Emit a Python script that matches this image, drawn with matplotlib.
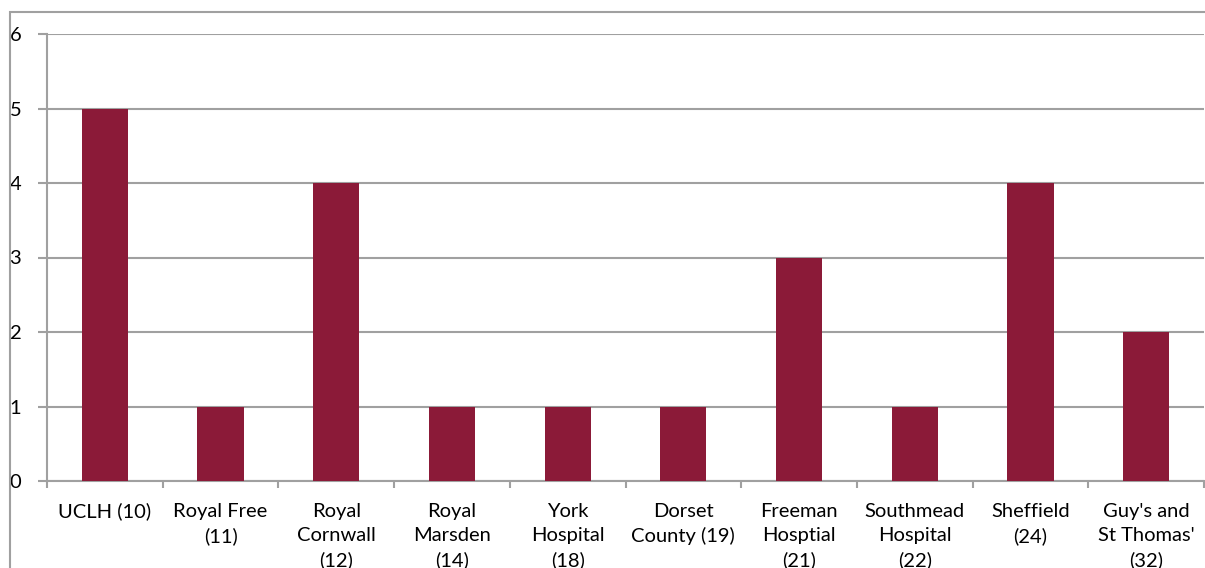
import numpy as np
import matplotlib
matplotlib.use("Agg")
import matplotlib.pyplot as plt
from matplotlib.patches import Rectangle
from matplotlib.ticker import FixedLocator, NullFormatter

hospitals = [
    "UCLH (10)",
    "Royal Free\n(11)",
    "Royal\nCornwall\n(12)",
    "Royal\nMarsden\n(14)",
    "York\nHospital\n(18)",
    "Dorset\nCounty (19)",
    "Freeman\nHosptial\n(21)",
    "Southmead\nHospital\n(22)",
    "Sheffield\n(24)",
    "Guy's and\nSt Thomas'\n(32)",
]
counts = [5, 1, 4, 1, 1, 1, 3, 1, 4, 2]
y_ticks = [0, 1, 2, 3, 4, 5, 6]

bar_color = "#8b1a38"
grid_color = "#a0a0a0"

plt.rcParams["font.family"] = ["Lato", "DejaVu Sans"]

W, H = 1205, 568
fig = plt.figure(figsize=(W / 100, H / 100), dpi=100)

# outer chart frame (left and top visible, rest cut by image edge)
fig.patches.append(
    Rectangle((10 / W, -0.1), 1.2, 1.1 - 12 / H, transform=fig.transFigure,
              fill=False, edgecolor=grid_color, linewidth=1.5)
)

ax = fig.add_axes([47 / W, (H - 481) / H, (1204 - 47) / W, (481 - 34) / H])

x = np.arange(len(hospitals))
ax.bar(x, counts, width=0.4, color=bar_color, zorder=3)

ax.set_xlim(-0.5, len(hospitals) - 0.5)
ax.set_ylim(0, 6)
ax.set_yticks(y_ticks)
ax.yaxis.grid(True, color=grid_color, linewidth=1.5, zorder=0)

ax.set_xticks(x)
ax.set_xticklabels(hospitals, fontsize=14.5, linespacing=1.52, va="top")
ax.tick_params(axis="x", which="major", length=0, pad=15.5)
ax.xaxis.set_minor_locator(FixedLocator(np.arange(len(hospitals) + 1) - 0.5))
ax.xaxis.set_minor_formatter(NullFormatter())
ax.tick_params(axis="x", which="minor", length=5, width=1.5, color=grid_color)

ax.tick_params(axis="y", length=6.5, width=1.5, color=grid_color, labelsize=14.5, pad=12)

for side in ["top", "right"]:
    ax.spines[side].set_visible(False)
for side in ["left", "bottom"]:
    ax.spines[side].set_color(grid_color)
    ax.spines[side].set_linewidth(1.5)

fig.savefig("out.png", dpi=100)
